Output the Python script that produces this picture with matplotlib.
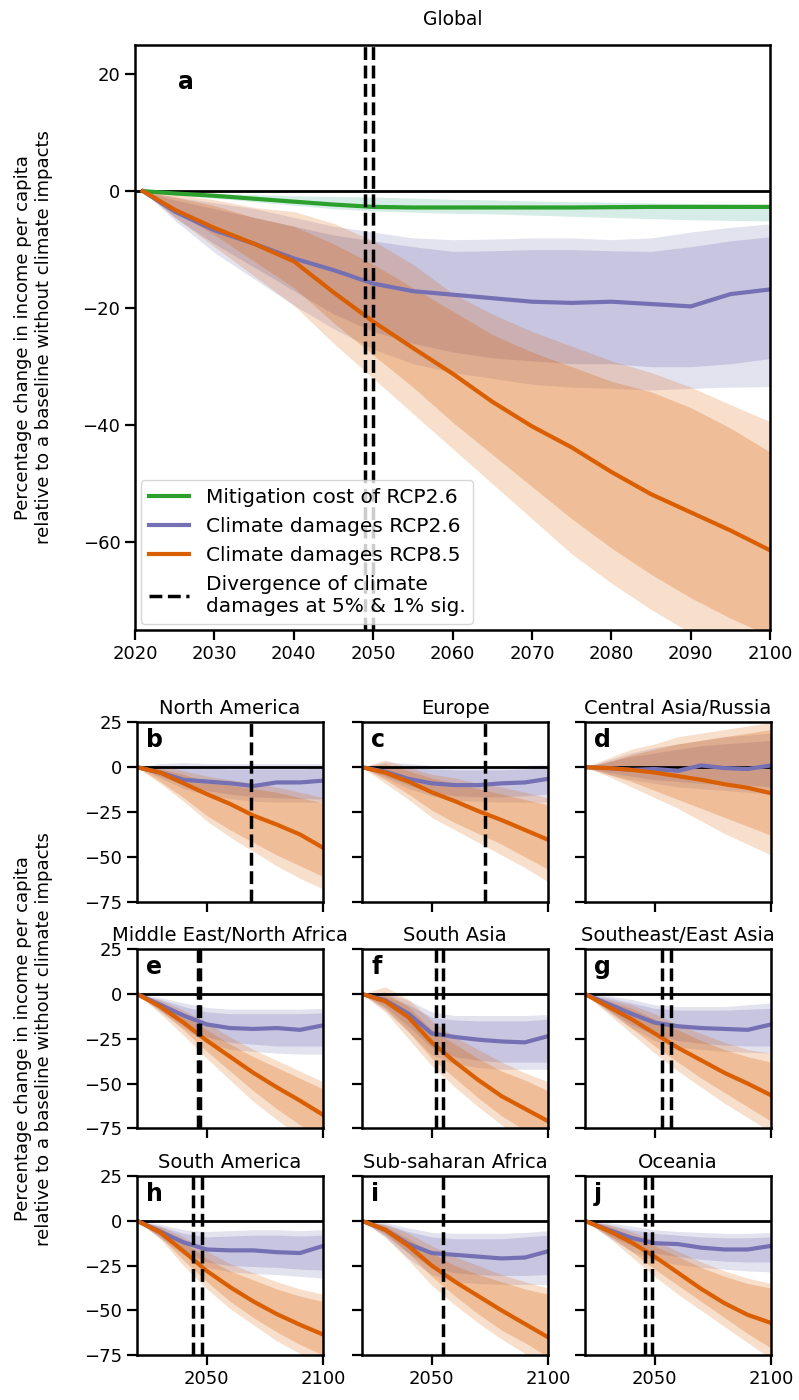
import numpy as np
import matplotlib.pyplot as plt
from matplotlib.lines import Line2D

plt.rcParams['font.size'] = 13

PURPLE = '#7570b3'
ORANGE = '#d95f02'
GREEN = '#2ca02c'
TEAL = '#1b9e77'

# ---- global panel (a) ----
years_g = [2021, 2025, 2030, 2035, 2040, 2045, 2050, 2055, 2060,
           2065, 2070, 2075, 2080, 2085, 2090, 2095, 2100]

mit_med = [0, -0.4, -0.8, -1.3, -1.8, -2.3, -2.7, -2.8, -2.8,
           -2.8, -2.8, -2.8, -2.75, -2.7, -2.7, -2.7, -2.7]
mit_hi = [0, -0.2, -0.4, -0.6, -0.8, -0.9, -1.0, -1.2, -1.4,
          -1.5, -1.7, -1.8, -1.9, -2.0, -2.1, -2.2, -2.3]
mit_lo = [0, -0.6, -1.2, -1.8, -2.4, -3.0, -3.4, -3.6, -3.8,
          -3.9, -4.1, -4.3, -4.5, -4.7, -4.9, -5.0, -5.1]

g26_med = [0, -3.5, -6.7, -9.0, -11.5, -13.5, -15.8, -17.1, -17.7,
           -18.3, -18.9, -19.1, -18.9, -19.3, -19.7, -17.6, -16.8]
g26_in_hi = [0, -1.5, -3.0, -4.5, -6.0, -7.5, -8.5, -9.5, -10.3,
             -10.2, -10.0, -10.0, -10.2, -10.3, -9.5, -8.5, -7.8]
g26_in_lo = [0, -4.5, -9.0, -13.0, -17.0, -21.0, -24.0, -26.0, -27.5,
             -28.5, -29.0, -29.5, -29.5, -30.0, -30.0, -29.5, -28.6]
g26_out_hi = [0, -1.0, -2.0, -3.0, -4.5, -6.0, -7.0, -8.0, -8.3,
              -8.2, -8.0, -8.0, -8.3, -8.0, -7.0, -6.2, -5.6]
g26_out_lo = [0, -5.0, -10.5, -15.0, -19.5, -23.5, -27.0, -29.5, -31.0,
              -32.0, -33.0, -33.5, -33.7, -34.0, -33.7, -33.5, -33.4]

g85_med = [0, -3.2, -6.3, -9.0, -12.0, -17.3, -22.3, -26.8, -31.2,
           -36.0, -40.2, -43.8, -48.0, -51.8, -54.9, -58.0, -61.4]
g85_in_hi = [0, -1.0, -2.5, -4.5, -6.0, -9.0, -12.5, -16.5, -20.5,
             -24.5, -27.5, -30.0, -32.5, -34.3, -37.0, -40.5, -44.6]
g85_in_lo = [0, -3.5, -7.5, -12.0, -16.5, -22.5, -28.0, -33.5, -39.5,
             -45.0, -50.5, -56.0, -61.0, -65.5, -69.5, -73.0, -76.0]
g85_out_hi = [0, -0.5, -1.5, -2.8, -3.5, -5.5, -8.5, -12.5, -17.5,
              -21.0, -24.0, -26.5, -29.0, -31.0, -33.5, -36.5, -39.4]
g85_out_lo = [0, -4.5, -9.5, -14.5, -19.5, -26.0, -32.0, -38.0, -44.0,
              -50.0, -56.0, -62.0, -67.0, -71.5, -75.5, -79.0, -83.0]

div_global = [2049, 2050]

# ---- regional panels (b-j) ----
regions = ['North America', 'Europe', 'Central Asia/Russia',
           'Middle East/North Africa', 'South Asia', 'Southeast/East Asia',
           'South America', 'Sub-saharan Africa', 'Oceania']
letters = ['b', 'c', 'd', 'e', 'f', 'g', 'h', 'i', 'j']
years_r = [2020, 2030, 2040, 2050, 2060, 2070, 2080, 2090, 2100]

r26_med = [
    [0, -3, -7, -8, -9, -10.5, -8.5, -8.5, -7.5],
    [0, -2.5, -6.5, -9, -10, -10, -9, -8.5, -6.5],
    [0, -0.5, -1.5, -1, -2, 1, -0.5, -1, 1],
    [0, -6, -12, -17, -19, -19.5, -19, -20, -17.5],
    [0, -3.5, -11, -22, -24, -25.5, -26.5, -27, -23.5],
    [0, -5.5, -11, -16, -18, -19, -19.5, -20, -17],
    [0, -6, -12, -16, -16.5, -16.5, -17.5, -18, -14],
    [0, -5, -13, -18, -19, -20, -21, -20.5, -17],
    [0, -5, -9.5, -12.5, -13, -15, -16, -16, -14],
]
r26_in_hi = [
    [0, 0.5, 0, -0.5, -1, -1, -1, -1, -0.5],
    [0, 1, 0, -1, -1.5, -1.5, -1.5, -1, 0],
    [0, 3, 6, 8, 10, 12, 13, 14, 15],
    [0, -3, -7, -10, -11, -11, -11, -11, -10.5],
    [0, -1, -6, -13, -14.5, -15, -15, -15, -14],
    [0, -2, -5, -8, -9, -9, -9, -8.5, -8],
    [0, -3, -7, -9, -8.5, -8, -8, -8.5, -8],
    [0, -2, -6, -9, -10, -10, -10, -9, -8],
    [0, -2, -5, -7, -8, -9, -9.5, -9.5, -9],
]
r26_in_lo = [
    [0, -5, -10, -13, -15, -16.5, -17, -17.5, -17.7],
    [0, -5, -10, -14, -16, -16.5, -16.5, -16, -15],
    [0, -3, -5, -7, -8, -9, -10, -10, -11],
    [0, -9, -17, -24, -27, -28, -29, -29, -29],
    [0, -7, -18, -30, -35, -37, -38, -38, -38],
    [0, -9, -17, -23, -26, -27.5, -28.5, -29, -29],
    [0, -9, -17, -23, -25, -25.5, -26, -27, -27.5],
    [0, -8, -18, -26, -29, -30, -30.5, -30.5, -30],
    [0, -8, -14, -18, -20, -21.5, -22.5, -23, -23],
]
r26_out_hi = [
    [0, 2, 2.5, 2, 2, 2, 2, 2, 2],
    [0, 3, 2, 1, 0.5, 0.5, 0.5, 1, 1.5],
    [0, 4, 8, 11, 13, 15, 17, 18, 19],
    [0, -2, -5, -7.5, -8.5, -8.5, -8.5, -8.5, -8],
    [0, 1, -3.5, -10, -12, -12, -12, -12, -11.5],
    [0, -1, -3, -6, -7, -7, -7, -6, -5],
    [0, -2, -5, -6, -5.5, -5, -5, -5.5, -5],
    [0, -1, -4, -6.5, -7, -7, -7, -6.5, -5.5],
    [0, -1, -3, -5, -6, -6.5, -7, -7, -6.5],
]
r26_out_lo = [
    [0, -6, -12, -15.5, -17.5, -19, -19.5, -19.5, -19.5],
    [0, -6, -12, -16, -18.5, -19, -19.5, -19.5, -19.5],
    [0, -4, -7, -9, -11, -12, -13, -14, -15],
    [0, -10, -19, -27, -31, -32, -33, -33.5, -33.5],
    [0, -9, -21, -34, -39, -41, -42, -42, -42],
    [0, -10, -19, -26, -29.5, -31, -32, -32.5, -33],
    [0, -10, -19, -26, -28.5, -29.5, -30, -31, -32],
    [0, -9, -21, -30, -34, -35, -35.5, -35.5, -35.5],
    [0, -9, -17, -22, -24.5, -26, -27, -28, -28.5],
]

r85_med = [
    [0, -3, -9, -15, -20.5, -27, -32, -37.5, -45],
    [0, -3, -8, -14, -19, -24.5, -29.5, -35, -40.5],
    [0, -0.5, -1.5, -3, -5, -7, -9.5, -11.5, -14.5],
    [0, -7, -16, -26, -35, -44, -52, -59.5, -67.5],
    [0, -4, -13, -27, -38, -48, -57, -64, -71],
    [0, -7, -14, -22, -30, -37, -44, -50, -56.5],
    [0, -6.5, -17, -28, -37, -45, -52, -58, -63.5],
    [0, -5, -14, -25, -34, -42, -50, -57.5, -65],
    [0, -5.5, -12, -20, -29, -38, -46, -52.5, -57],
]
r85_in_hi = [
    [0, -1, -4, -8, -10, -12, -14, -17, -20],
    [0, 2, -2, -6, -9, -12, -15, -18, -21],
    [0, 3, 7, 10, 13, 15, 17, 19, 21],
    [0, -5, -12, -20, -28, -35, -41, -47, -53],
    [0, 1, -7, -20, -28, -36, -43, -48, -54],
    [0, -4, -8, -14, -20, -26, -31, -35, -38],
    [0, -4, -12, -21, -28, -33, -38, -42, -45],
    [0, -3, -10, -18, -25, -30, -34, -38, -41],
    [0, -3, -8, -14, -20, -26, -31, -35, -37.5],
]
r85_in_lo = [
    [0, -8, -17, -27, -35, -42, -49, -55, -61],
    [0, -7, -15, -24, -31, -37, -43, -50, -57],
    [0, -4, -8, -13, -18, -23, -28, -33, -38],
    [0, -9, -20, -32, -43, -54, -64, -73, -82],
    [0, -8, -21, -36, -47, -58, -68, -76, -84],
    [0, -9, -19, -29, -38, -47, -55, -63, -71],
    [0, -9, -22, -34, -45, -54, -62, -69, -75],
    [0, -7, -18, -31, -42, -52, -61, -68, -76],
    [0, -8, -17, -27, -36, -45, -54, -63, -71],
]
r85_out_hi = [
    [0, 1, -2, -5, -7, -9, -11, -14, -17],
    [0, 4, 0, -4, -6, -9, -11, -14, -17],
    [0, 5, 10, 13, 17, 19, 21, 23, 25],
    [0, -3.5, -9, -16, -24, -31, -37, -43, -49],
    [0, 4, -3, -15, -24, -31, -38, -44, -49],
    [0, -3, -6, -11, -17, -22, -27, -31, -33],
    [0, -3, -9, -17, -24, -29, -34, -38, -41],
    [0, -2, -7, -14, -20, -25, -30, -34, -37.5],
    [0, -2, -6, -11, -17, -23, -28, -32, -35],
]
r85_out_lo = [
    [0, -9, -19, -30, -39, -47, -55, -62, -68],
    [0, -9, -18, -28, -35, -42, -49, -56, -64],
    [0, -5, -11, -17, -23, -30, -37, -43, -49],
    [0, -11, -23, -36, -48, -60, -70, -80, -88],
    [0, -10, -25, -40, -52, -63, -73, -82, -90],
    [0, -11, -22, -33, -43, -52, -61, -69, -77],
    [0, -10, -25, -38, -49, -58, -67, -74, -81],
    [0, -9, -22, -36, -47, -57, -66, -74, -82],
    [0, -9, -20, -31, -41, -50, -59, -68, -77],
]

div_years = [[2069], [2073], [], [2046, 2047], [2052, 2055],
             [2053, 2057], [2044, 2048], [2055], [2046, 2049]]

YLABEL = ('Percentage change in income per capita\n'
          'relative to a baseline without climate impacts')


def draw_bands(ax, x, in_hi, in_lo, out_hi, out_lo, color):
  ax.fill_between(x, out_lo, out_hi, color=color, alpha=0.2, lw=0)
  ax.fill_between(x, in_lo, in_hi, color=color, alpha=0.25, lw=0)


def style_axes(ax):
  for s in ax.spines.values():
    s.set_linewidth(1.8)
  ax.tick_params(width=1.6, length=7)


fig = plt.figure(figsize=(7.99, 14), dpi=100)

# global panel
ax = fig.add_axes([0.169, 0.55, 0.795, 0.418])
ax.fill_between(years_g, mit_lo, mit_hi, color=TEAL, alpha=0.18, lw=0)
draw_bands(ax, years_g, g26_in_hi, g26_in_lo, g26_out_hi, g26_out_lo, PURPLE)
draw_bands(ax, years_g, g85_in_hi, g85_in_lo, g85_out_hi, g85_out_lo, ORANGE)
ax.axhline(0, color='k', lw=2)
ax.plot(years_g, mit_med, color=GREEN, lw=3)
ax.plot(years_g, g26_med, color=PURPLE, lw=3)
ax.plot(years_g, g85_med, color=ORANGE, lw=3)
for d in div_global:
  ax.axvline(d, color='k', ls='--', lw=2.5)
ax.set_xlim(2020, 2100)
ax.set_ylim(-75, 25)
ax.set_xticks(range(2020, 2101, 10))
ax.set_yticks([20, 0, -20, -40, -60])
ax.set_title('Global', fontsize=13.5, pad=14)
ax.text(0.068, 0.937, 'a', transform=ax.transAxes, fontsize=17,
        fontweight='bold', va='center')
style_axes(ax)
handles = [Line2D([], [], color=GREEN, lw=3),
           Line2D([], [], color=PURPLE, lw=3),
           Line2D([], [], color=ORANGE, lw=3),
           Line2D([], [], color='k', ls='--', lw=2.5)]
labels = ['Mitigation cost of RCP2.6', 'Climate damages RCP2.6',
          'Climate damages RCP8.5', 'Divergence of climate\ndamages at 5% & 1% sig.']
ax.legend(handles, labels, loc='lower left', fontsize=14.5, handlelength=2.0,
          borderaxespad=0.3)
fig.text(0.042, 0.55 + 0.418 / 2, YLABEL, rotation=90, ha='center',
         va='center', fontsize=13)

# regional panels
lefts = [0.1715, 0.453, 0.732]
bottoms = [0.356, 0.194, 0.032]
for i, name in enumerate(regions):
  row, col = divmod(i, 3)
  ax = fig.add_axes([lefts[col], bottoms[row], 0.233, 0.128])
  draw_bands(ax, years_r, r26_in_hi[i], r26_in_lo[i],
             r26_out_hi[i], r26_out_lo[i], PURPLE)
  draw_bands(ax, years_r, r85_in_hi[i], r85_in_lo[i],
             r85_out_hi[i], r85_out_lo[i], ORANGE)
  ax.axhline(0, color='k', lw=2)
  ax.plot(years_r, r26_med[i], color=PURPLE, lw=3)
  ax.plot(years_r, r85_med[i], color=ORANGE, lw=3)
  for d in div_years[i]:
    ax.axvline(d, color='k', ls='--', lw=2.5)
  ax.set_xlim(2020, 2100)
  ax.set_ylim(-75, 25)
  ax.set_xticks([2050, 2100])
  ax.set_yticks([25, 0, -25, -50, -75])
  if row < 2:
    ax.set_xticklabels([])
  if col > 0:
    ax.set_yticklabels([])
  ax.set_title(name, fontsize=14, pad=6)
  ax.text(0.05, 0.9, letters[i], transform=ax.transAxes, fontsize=17,
          fontweight='bold', va='center')
  style_axes(ax)

fig.text(0.042, 0.194 + 0.128 / 2, YLABEL, rotation=90, ha='center',
         va='center', fontsize=13)

fig.savefig('out.png', dpi=100)
